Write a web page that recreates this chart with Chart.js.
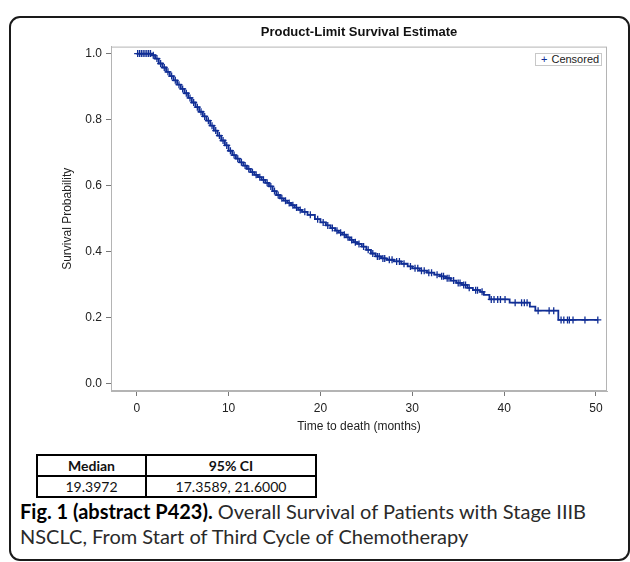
<!DOCTYPE html>
<html>
<head>
<meta charset="utf-8">
<script src="https://cdn.jsdelivr.net/npm/chart.js@4.4.1/dist/chart.umd.min.js"></script>
<style>
  body { margin: 0; width: 630px; height: 562px; overflow: hidden; background: #fff; position: relative; }
  #frame { position: absolute; left: 9px; top: 16px; width: 621px; height: 545px; box-sizing: border-box;
           border: 2px solid #1a1a1a; border-radius: 11px; }
  #wrap { position: absolute; left: 0; top: 0; width: 630px; height: 450px; }
  #legend { position: absolute; left: 535px; top: 53px; width: 67px; height: 13px; box-sizing: border-box;
            border: 1px solid #c8c8c8; font: 11px "Liberation Sans", Arial, sans-serif; line-height: 11px;
            padding-left: 5px; color: #222; background: #fff; }
  #legend span { color: #102e95; margin-right: 4px; }
  #stats { position: absolute; left: 36px; top: 454px; border-collapse: collapse; width: 281px;
           font: 14px Lato, "Open Sans", sans-serif; color: #111; }
  #stats td { border: 2px solid #000; height: 19px; padding: 0; text-align: center; }
  #stats tr:first-child td { font-weight: bold; }
  #caption { position: absolute; left: 20px; top: 499px; font: 20px Lato, "Open Sans", sans-serif;
             line-height: 25px; color: #2a2a2a; white-space: nowrap; }
  #caption b { color: #000; }
</style>
</head>
<body>
<div id="frame"></div>
<div id="wrap"><canvas id="km_chart" width="630" height="450"></canvas></div>
<div id="legend"><span>+</span>Censored</div>
<table id="stats">
  <tr><td style="width:107px">Median</td><td>95% CI</td></tr>
  <tr><td>19.3972</td><td>17.3589, 21.6000</td></tr>
</table>
<div id="caption"><b>Fig. 1 (abstract P423).</b> Overall Survival of Patients with Stage IIIB<br>NSCLC, From Start of Third Cycle of Chemotherapy</div>
<script>
const eventTime = [0, 1.6, 2.0, 2.4, 2.8, 3.2, 3.6, 4.0, 4.4, 4.8,
    5.2, 5.6, 6.0, 6.4, 6.8, 7.2, 7.6, 8.0, 8.4, 8.8,
    9.2, 9.6, 10.0, 10.4, 10.8, 11.2, 11.6, 12.0, 12.4, 12.8,
    13.2, 13.6, 14.0, 14.4, 14.8, 15.2, 15.6, 16.0, 16.4, 16.8,
    17.2, 17.6, 18.0, 18.6, 19.4, 20.0, 20.6, 21.1, 21.6, 22.0,
    22.4, 22.8, 23.2, 23.6, 24.0, 24.5, 25.0, 25.5, 26.0, 26.6,
    27.2, 28.0, 28.8, 29.5, 30.0, 30.8, 31.6, 32.4, 33.0, 33.6,
    34.2, 34.8, 35.4, 36.0, 36.6, 37.4, 37.8, 38.4, 40.6, 42.8,
    43.4, 45.9, 50.2];
const eventSurv = [1.000, 0.995, 0.985, 0.970, 0.958, 0.945, 0.932, 0.919, 0.906, 0.893,
    0.880, 0.866, 0.852, 0.838, 0.824, 0.810, 0.797, 0.782, 0.767, 0.752,
    0.737, 0.722, 0.706, 0.693, 0.682, 0.671, 0.661, 0.651, 0.641, 0.633,
    0.626, 0.618, 0.609, 0.598, 0.584, 0.572, 0.562, 0.555, 0.548, 0.541,
    0.534, 0.527, 0.521, 0.512, 0.499, 0.489, 0.480, 0.472, 0.464, 0.458,
    0.452, 0.444, 0.436, 0.429, 0.424, 0.416, 0.406, 0.395, 0.386, 0.380,
    0.376, 0.371, 0.364, 0.356, 0.350, 0.343, 0.337, 0.331, 0.326, 0.320,
    0.313, 0.306, 0.300, 0.291, 0.284, 0.279, 0.270, 0.256, 0.246, 0.234,
    0.222, 0.194, 0.194];

const censorTime = [0.1, 0.3, 0.5, 0.7, 0.9, 1.1, 1.3, 1.5,
    1.8, 2.2, 2.6, 3.0, 3.4, 3.8, 4.2, 4.6, 5.0, 5.4, 5.8, 6.2, 6.6, 7.0, 7.4, 7.8,
    8.2, 8.6, 9.0, 9.4, 9.8, 10.2, 10.6, 11.0, 11.4, 11.8, 12.2, 12.6, 13.0, 13.4,
    13.8, 14.2, 14.6, 15.0, 15.4, 15.8, 16.2, 16.6, 17.0, 17.4, 17.8, 18.3, 18.9,
    19.7, 20.3, 20.8, 21.3, 21.8, 22.2, 22.6, 23.0, 23.4, 23.8, 24.2, 24.7, 25.2,
    25.7, 26.2, 26.4, 26.8, 27.0, 27.5, 27.8, 28.3, 28.6, 29.1, 29.8, 30.3, 30.6,
    31.0, 31.3, 31.8, 32.1, 32.7, 33.2, 33.4, 33.8, 34.0, 34.5, 35.0, 35.2, 35.6,
    35.8, 36.2, 36.9, 37.1, 37.6, 38.6, 38.9, 39.3, 39.6, 40.1, 41.2, 41.9, 42.2,
    42.5, 43.7, 44.9, 45.4, 46.2, 46.5, 46.9, 47.1, 47.5, 48.8, 50.2];
const censorSurv = [1, 1, 1, 1, 1, 1, 1, 1,
    0.995, 0.985, 0.970, 0.958, 0.945, 0.932, 0.919, 0.906, 0.893, 0.880, 0.866, 0.852, 0.838, 0.824, 0.810, 0.797,
    0.782, 0.767, 0.752, 0.737, 0.722, 0.706, 0.693, 0.682, 0.671, 0.661, 0.651, 0.641, 0.633, 0.626,
    0.618, 0.609, 0.598, 0.584, 0.572, 0.562, 0.555, 0.548, 0.541, 0.534, 0.527, 0.521, 0.512,
    0.499, 0.489, 0.480, 0.472, 0.464, 0.458, 0.452, 0.444, 0.436, 0.429, 0.424, 0.416, 0.406,
    0.395, 0.386, 0.386, 0.380, 0.380, 0.376, 0.376, 0.371, 0.371, 0.364, 0.356, 0.350, 0.350,
    0.343, 0.343, 0.337, 0.337, 0.331, 0.326, 0.326, 0.320, 0.320, 0.313, 0.306, 0.306, 0.300,
    0.300, 0.291, 0.284, 0.284, 0.279, 0.256, 0.256, 0.256, 0.256, 0.256, 0.246, 0.246, 0.246,
    0.246, 0.222, 0.222, 0.222, 0.194, 0.194, 0.194, 0.194, 0.194, 0.194, 0.194];

const xTicks = [0, 10, 20, 30, 40, 50];
const yTicks = [0.0, 0.2, 0.4, 0.6, 0.8, 1.0];

const blue = '#102e95';
const axisFont = {family: '"Liberation Sans", Arial, sans-serif', size: 12};

const kmData = {
    datasets: [{
        label: 'Survival',
        type: 'line',
        data: eventTime.map((t, i) => ({x: t, y: eventSurv[i]})),
        stepped: 'before',
        borderColor: blue,
        borderWidth: 1.8,
        pointRadius: 0,
        fill: false
    }, {
        label: 'Censored',
        type: 'scatter',
        data: censorTime.map((t, i) => ({x: t, y: censorSurv[i]})),
        pointStyle: 'cross',
        pointRadius: 3.5,
        borderColor: blue,
        borderWidth: 1.3,
        backgroundColor: blue
    }]
};

const kmChart = new Chart(document.getElementById('km_chart'), {
    type: 'scatter',
    data: kmData,
    options: {
        responsive: false,
        animation: false,
        devicePixelRatio: 1,
        layout: {padding: {left: 0, right: 23, top: 0, bottom: 0}},
        plugins: {
            legend: {display: false},
            tooltip: {enabled: false},
            title: {
                display: true,
                fullSize: false,
                text: 'Product-Limit Survival Estimate',
                color: '#111',
                font: {family: '"Liberation Sans", Arial, sans-serif', size: 13, weight: 'bold'},
                padding: {top: 25, bottom: 6}
            }
        },
        scales: {
            x: {
                type: 'linear',
                min: -2.8,
                max: 51.2,
                afterBuildTicks: s => { s.ticks = xTicks.map(v => ({value: v})); },
                afterFit: s => { s.height = 59; },
                border: {display: true, color: '#b4b4b4', width: 1},
                grid: {display: true, drawOnChartArea: false, drawTicks: true, tickLength: 5, color: '#777'},
                ticks: {color: '#222', font: axisFont, padding: 5, maxRotation: 0},
                title: {display: true, text: 'Time to death (months)', color: '#222', font: axisFont,
                        padding: {top: 0, bottom: 16}}
            },
            y: {
                min: -0.0212,
                max: 1.0212,
                afterBuildTicks: s => { s.ticks = yTicks.map(v => ({value: v})); },
                afterFit: s => { s.width = 111; },
                border: {display: true, color: '#b4b4b4', width: 1},
                grid: {display: true, drawOnChartArea: false, drawTicks: true, tickLength: 5, color: '#777'},
                ticks: {color: '#222', font: axisFont, padding: 4, callback: v => v.toFixed(1)},
                title: {display: true, text: 'Survival Probability', color: '#222', font: axisFont,
                        padding: {top: 60, bottom: 0}}
            }
        }
    },
    plugins: [{
        id: 'plotFrame',
        afterDraw(chart) {
            const {ctx, chartArea: a} = chart;
            ctx.save();
            ctx.strokeStyle = '#b4b4b4';
            ctx.lineWidth = 1;
            ctx.strokeRect(a.left + 0.5, a.top + 0.5, a.right - a.left - 1, a.bottom - a.top - 1);
            ctx.restore();
        }
    }]
});
</script>
</body>
</html>
